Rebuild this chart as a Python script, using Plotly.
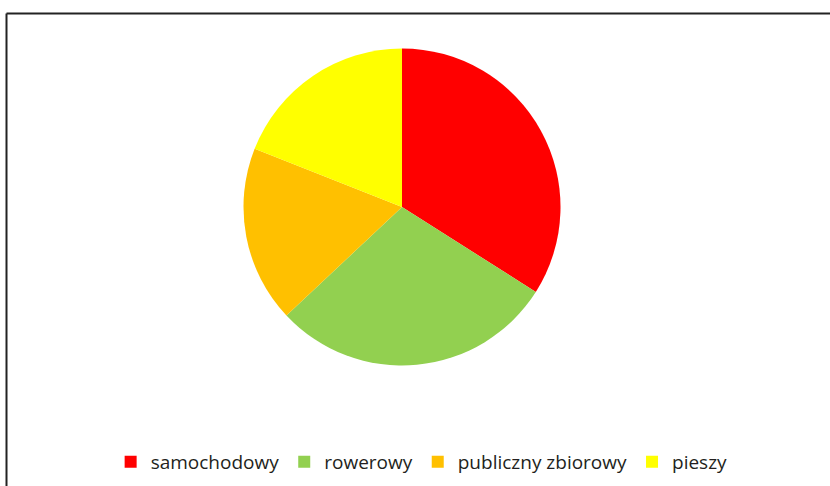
import plotly.graph_objects as go

labels = ["samochodowy", "rowerowy", "publiczny zbiorowy", "pieszy"]
values = [34, 29, 18, 19]
colors = ["#FF0000", "#92D050", "#FFC000", "#FFFF00"]

W, H = 830, 486
cx, cy, r = 402, 207, 158.5

fig = go.Figure(go.Pie(
    labels=labels,
    values=values,
    marker=dict(colors=colors, line=dict(width=0)),
    sort=False,
    direction="clockwise",
    rotation=0,
    textinfo="none",
    hoverinfo="label+percent",
    domain=dict(x=[(cx - r) / W, (cx + r) / W], y=[(H - cy - r) / H, (H - cy + r) / H]),
))

fig.update_layout(
    width=W, height=H,
    margin=dict(l=0, r=0, t=0, b=0),
    paper_bgcolor="white",
    plot_bgcolor="white",
    font=dict(family="Open Sans", size=19, color="#231f20"),
    legend=dict(
        orientation="h",
        x=0.508, xanchor="center",
        y=(H - 462) / H, yanchor="middle",
        font=dict(family="Open Sans", size=19, color="#231f20"),
        itemwidth=30,
        traceorder="normal",
    ),
    shapes=[
        dict(type="line", xref="paper", yref="paper",
             x0=6.5 / W, x1=1, y0=1 - 13.5 / H, y1=1 - 13.5 / H,
             line=dict(color="#222222", width=2)),
        dict(type="line", xref="paper", yref="paper",
             x0=6.5 / W, x1=6.5 / W, y0=0, y1=1 - 13.5 / H,
             line=dict(color="#222222", width=2)),
    ],
)

fig.write_html(
    "out.html",
    config={"displayModeBar": False},
    post_script="document.body.style.margin='0';document.body.style.overflow='hidden';",
)
